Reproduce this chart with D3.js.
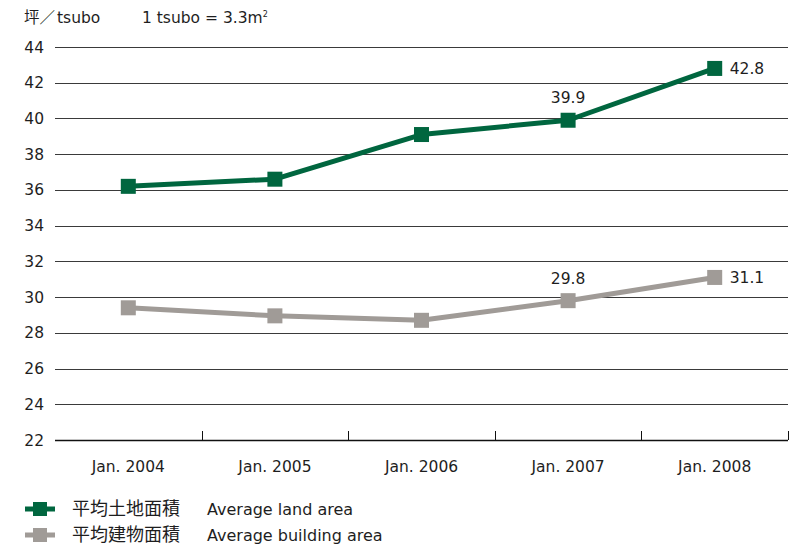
<!DOCTYPE html>
<html>
<head>
<meta charset="utf-8">
<script src="https://cdn.jsdelivr.net/npm/d3@7/dist/d3.min.js"></script>
<style>
  html, body { margin: 0; padding: 0; background: #fff; }
  svg { display: block; }
  text { font-family: "DejaVu Sans", "Noto Sans CJK JP", sans-serif; fill: #1e1e1e; }
</style>
</head>
<body>
<svg id="chart" width="795" height="549"></svg>
<script>
// Average lot sizes, in tsubo
const categories = ["Jan. 2004", "Jan. 2005", "Jan. 2006", "Jan. 2007", "Jan. 2008"];
const landArea = [36.2, 36.6, 39.1, 39.9, 42.8];
const buildingArea = [29.4, 28.95, 28.7, 29.8, 31.1];
const yTicks = [22, 24, 26, 28, 30, 32, 34, 36, 38, 40, 42, 44];

// value labels printed next to selected points: [index, placement]
const landLabels = [[3, "above"], [4, "right"]];
const buildingLabels = [[3, "above"], [4, "right"]];

const seriesList = [
  { name: "平均土地面積", en: "Average land area", values: landArea, color: "#00663f", labels: landLabels },
  { name: "平均建物面積", en: "Average building area", values: buildingArea, color: "#a09b97", labels: buildingLabels }
];

const svg = d3.select("#chart");
const plot = { left: 55, right: 788, top: 47, bottom: 440 };
const FS = 15.5;

const x = d3.scaleBand().domain(categories).range([plot.left, plot.right]);
const y = d3.scaleLinear().domain([22, 44]).range([plot.bottom, plot.top]);

// horizontal grid lines with values on the left
const grid = svg.append("g");
grid.selectAll("line").data(yTicks).join("line")
  .attr("x1", plot.left).attr("x2", plot.right)
  .attr("y1", d => Math.round(y(d)) + 0.5).attr("y2", d => Math.round(y(d)) + 0.5)
  .attr("stroke", d => d === 22 ? "#111" : "#3a3a3a")
  .attr("stroke-width", d => d === 22 ? 1.6 : 1);
grid.selectAll("text").data(yTicks).join("text")
  .attr("x", 44).attr("y", d => y(d))
  .attr("dy", "0.36em")
  .attr("text-anchor", "end")
  .attr("font-size", FS)
  .text(d => d);

// category labels under the base line
const xAxis = d3.axisBottom(x).tickSize(0).tickPadding(21);
const xg = svg.append("g").attr("transform", `translate(0,${plot.bottom})`).call(xAxis);
xg.select(".domain").remove();
xg.selectAll("text").attr("font-size", FS).attr("fill", "#1e1e1e")
  .style("font-family", '"DejaVu Sans", sans-serif');

// separators between categories
svg.append("g").selectAll("line").data(categories).join("line")
  .attr("x1", d => Math.round(x(d) + x.bandwidth()) + 0.5)
  .attr("x2", d => Math.round(x(d) + x.bandwidth()) + 0.5)
  .attr("y1", plot.bottom).attr("y2", plot.bottom - 9)
  .attr("stroke", "#111").attr("stroke-width", 1);

// series lines, square markers and value labels
const line = d3.line()
  .x((d, i) => x(categories[i]) + x.bandwidth() / 2)
  .y(d => y(d));

seriesList.forEach(s => {
  const g = svg.append("g");
  g.append("path").datum(s.values)
    .attr("d", line)
    .attr("fill", "none")
    .attr("stroke", s.color)
    .attr("stroke-width", 5)
    .attr("stroke-linejoin", "round");
  g.selectAll("rect").data(s.values).join("rect")
    .attr("x", (d, i) => x(categories[i]) + x.bandwidth() / 2 - 7.5)
    .attr("y", d => y(d) - 7.5)
    .attr("width", 15).attr("height", 15)
    .attr("fill", s.color);
  s.labels.forEach(([i, where]) => {
    const v = s.values[i];
    const cx = x(categories[i]) + x.bandwidth() / 2;
    const t = g.append("text")
      .attr("font-size", FS)
      .text(v.toFixed(1));
    if (where === "above") {
      t.attr("x", cx).attr("y", y(v) - 17).attr("text-anchor", "middle");
    } else {
      t.attr("x", cx + 15).attr("y", y(v)).attr("dy", "0.36em");
    }
  });
});

// unit note
const unit = svg.append("text").attr("x", 24).attr("y", 23).attr("font-size", FS);
unit.append("tspan").style("font-family", '"Noto Sans CJK JP", sans-serif').text("坪／");
unit.append("tspan").attr("dx", 2).text("tsubo");
const note = svg.append("text").attr("x", 142).attr("y", 23).attr("font-size", FS);
note.append("tspan").text("1 tsubo = 3.3m");
note.append("tspan").attr("font-size", 8).attr("dy", -6).text("2");

// legend
const legend = svg.append("g");
seriesList.forEach((s, k) => {
  const ly = 509 + k * 26;
  legend.append("line").attr("x1", 25).attr("x2", 55).attr("y1", ly).attr("y2", ly)
    .attr("stroke", s.color).attr("stroke-width", 5);
  legend.append("rect").attr("x", 33).attr("y", ly - 7).attr("width", 14).attr("height", 14)
    .attr("fill", s.color);
  legend.append("text").attr("x", 72).attr("y", ly).attr("dy", "0.36em")
    .attr("font-size", 18).style("font-family", '"Noto Sans CJK JP", sans-serif').text(s.name);
  legend.append("text").attr("x", 207).attr("y", ly).attr("dy", "0.36em")
    .attr("font-size", 16).text(s.en);
});
</script>
</body>
</html>
